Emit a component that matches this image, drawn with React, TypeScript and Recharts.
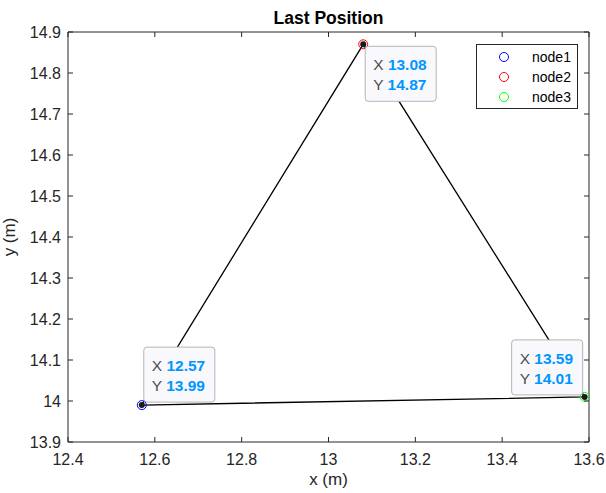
import React from 'react';
import { ComposedChart, Scatter, XAxis, YAxis, ReferenceArea, Legend } from 'recharts';

const nodeNames = ['node1', 'node2', 'node3'];
const nodeX = [12.57, 13.08, 13.59];
const nodeY = [13.99, 14.87, 14.01];
const nodeColors = ['#0000ff', '#ff0000', '#00ff00'];
const tipPlacement = ['above-right', 'below-right', 'above-left'];
const xTicks = [12.4, 12.6, 12.8, 13, 13.2, 13.4, 13.6];
const yTicks = [13.9, 14, 14.1, 14.2, 14.3, 14.4, 14.5, 14.6, 14.7, 14.8, 14.9];
const xDomain = [12.4, 13.6];
const yDomain = [13.9, 14.9];
const titleText = 'Last Position';
const xLabelText = 'x (m)';
const yLabelText = 'y (m)';

const W = 606;
const H = 493;
const PLOT = { left: 68, top: 32, right: 589, bottom: 442 };
const FONT = '"Liberation Sans", Arial, Helvetica, sans-serif';
const AXIS_COLOR = '#262626';
const TICK_LEN = 5;

const nodes = nodeNames.map((name, i) => ({ name, x: nodeX[i], y: nodeY[i], color: nodeColors[i], place: tipPlacement[i] }));
const loop = [...nodes, nodes[0]].map((n) => ({ x: n.x, y: n.y }));

const fmt = (v: number) => String(Number(v.toFixed(2)));

const XTick = (props: any) => {
  const { x, payload } = props;
  return (
    <g>
      <line x1={x} x2={x} y1={PLOT.bottom} y2={PLOT.bottom - TICK_LEN} stroke={AXIS_COLOR} strokeWidth={1} />
      <line x1={x} x2={x} y1={PLOT.top} y2={PLOT.top + TICK_LEN} stroke={AXIS_COLOR} strokeWidth={1} />
      <text x={x} y={PLOT.bottom + 23} textAnchor="middle" fontSize={16} fontFamily={FONT} fill={AXIS_COLOR}>
        {fmt(payload.value)}
      </text>
    </g>
  );
};

const YTick = (props: any) => {
  const { y, payload } = props;
  return (
    <g>
      <line x1={PLOT.left} x2={PLOT.left + TICK_LEN} y1={y} y2={y} stroke={AXIS_COLOR} strokeWidth={1} />
      <line x1={PLOT.right} x2={PLOT.right - TICK_LEN} y1={y} y2={y} stroke={AXIS_COLOR} strokeWidth={1} />
      <text x={PLOT.left - 7} y={y + 6} textAnchor="end" fontSize={16} fontFamily={FONT} fill={AXIS_COLOR}>
        {fmt(payload.value)}
      </text>
    </g>
  );
};

const NodeMarker = (color: string) => (props: any) => {
  const { cx, cy } = props;
  return (
    <g>
      <circle cx={cx} cy={cy} r={4.5} fill="none" stroke={color} strokeWidth={1} />
      <circle cx={cx} cy={cy} r={3} fill="#1a1a1a" />
    </g>
  );
};

const TIP_W = 71;
const TIP_H = 55;

const TipShape = (props: any) => {
  const { cx, cy, payload } = props;
  const place = payload.place;
  let bx = cx + 2;
  let by = cy - 3 - TIP_H;
  if (place === 'below-right') {
    bx = cx + 2;
    by = cy + 2;
  } else if (place === 'above-left') {
    bx = cx - 2 - TIP_W;
    by = cy - 2 - TIP_H;
  }
  return (
    <g>
      <rect x={bx} y={by} width={TIP_W} height={TIP_H} rx={3} ry={3} fill="#f9f9fd" stroke="#b4b4b4" strokeWidth={1} />
      <text x={bx + 8} y={by + 24} fontSize={15.5} fontFamily={FONT} fill="#4d4d4d">
        X <tspan fill="#0096ff" fontWeight="bold">{payload.x.toFixed(2)}</tspan>
      </text>
      <text x={bx + 8} y={by + 44} fontSize={15.5} fontFamily={FONT} fill="#4d4d4d">
        Y <tspan fill="#0096ff" fontWeight="bold">{payload.y.toFixed(2)}</tspan>
      </text>
    </g>
  );
};

const LegendBox = () => (
  <svg width={102} height={65} style={{ display: 'block' }}>
    <rect x={0.5} y={0.5} width={101} height={64} fill="#fff" stroke={AXIS_COLOR} strokeWidth={1} />
    {nodes.map((n, i) => (
      <g key={n.name}>
        <circle cx={28} cy={13 + i * 20} r={4.5} fill="none" stroke={n.color} strokeWidth={1} />
        <text x={56} y={18 + i * 20} fontSize={14} fontFamily={FONT} fill="#000">
          {n.name}
        </text>
      </g>
    ))}
  </svg>
);

const EmptyShape = () => <g />;

export default function App() {
  return (
    <div style={{ position: 'absolute', left: 0, top: 0, width: W, height: H, background: '#fff' }}>
      <ComposedChart
        width={W}
        height={H}
        margin={{ top: PLOT.top, right: W - PLOT.right, bottom: 0, left: 0 }}
      >
        <XAxis
          type="number"
          dataKey="x"
          domain={xDomain}
          ticks={xTicks}
          height={H - PLOT.bottom}
          axisLine={false}
          tickLine={false}
          tick={<XTick />}
          allowDataOverflow
          interval={0}
        />
        <YAxis
          type="number"
          dataKey="y"
          domain={yDomain}
          ticks={yTicks}
          width={PLOT.left}
          axisLine={false}
          tickLine={false}
          tick={<YTick />}
          allowDataOverflow
          interval={0}
        />
        <ReferenceArea
          x1={xDomain[0]}
          x2={xDomain[1]}
          y1={yDomain[0]}
          y2={yDomain[1]}
          fill="none"
          fillOpacity={0}
          stroke={AXIS_COLOR}
          strokeWidth={1}
          ifOverflow="extendDomain"
        />
        <Scatter
          data={loop}
          line={{ stroke: '#000', strokeWidth: 1.3 }}
          lineType="joint"
          shape={<EmptyShape />}
          isAnimationActive={false}
          legendType="none"
        />
        {nodes.map((n) => (
          <Scatter
            key={n.name}
            name={n.name}
            data={[{ x: n.x, y: n.y }]}
            shape={NodeMarker(n.color)}
            isAnimationActive={false}
          />
        ))}
        <Scatter data={nodes} shape={<TipShape />} isAnimationActive={false} legendType="none" />
        <Legend
          layout="horizontal"
          verticalAlign="middle"
          align="center"
          content={<LegendBox />}
          wrapperStyle={{ position: 'absolute', left: 476, top: 44, width: 102, height: 65 }}
        />
      </ComposedChart>
      <div
        style={{
          position: 'absolute',
          left: PLOT.left,
          width: PLOT.right - PLOT.left,
          top: 8,
          textAlign: 'center',
          fontFamily: FONT,
          fontWeight: 'bold',
          fontSize: 17.5,
          color: '#000',
          lineHeight: '20px',
        }}
      >
        {titleText}
      </div>
      <div
        style={{
          position: 'absolute',
          left: PLOT.left,
          width: PLOT.right - PLOT.left,
          top: 470,
          textAlign: 'center',
          fontFamily: FONT,
          fontSize: 17,
          color: AXIS_COLOR,
          lineHeight: '20px',
        }}
      >
        {xLabelText}
      </div>
      <div
        style={{
          position: 'absolute',
          left: 10 - 50,
          top: (PLOT.top + PLOT.bottom) / 2 - 10,
          width: 100,
          textAlign: 'center',
          transform: 'rotate(-90deg)',
          fontFamily: FONT,
          fontSize: 17,
          color: AXIS_COLOR,
          lineHeight: '20px',
        }}
      >
        {yLabelText}
      </div>
    </div>
  );
}
